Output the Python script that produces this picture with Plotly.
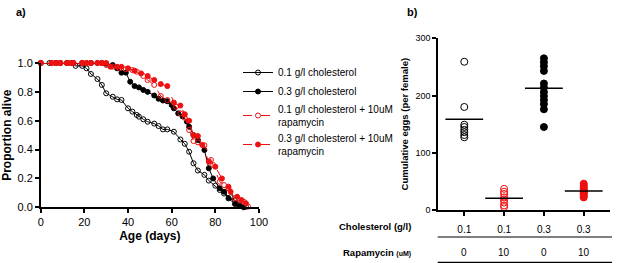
import numpy as np
import plotly.graph_objects as go

# ---------------- Panel a: survival ----------------
days_c01 = [0,4,7,9,12,14,16,19,21,23,26,28,30,33,35,37,40,42,44,45,47,49,52,54,56,58,61,64,66,68,70,72,75,77,80,82,84,87,89,91,94]
surv_c01 = [1,1,1,1,1,1,0.98,0.98,0.963,0.924,0.889,0.848,0.79,0.766,0.748,0.744,0.686,0.663,0.64,0.628,
            0.61,0.593,0.58,0.563,0.54,0.54,0.524,0.47,0.44,0.385,0.305,0.255,0.225,0.185,0.15,0.12,0.095,0.07,0.048,0.028,0.004]

days_c03 = [0,5,7,9,12,14,15,19,21,23,26,28,30,33,35,37,39,41,43,45,47,49,52,54,56,58,60,61,63,65,67,68,70,72,75,77,79,82,84,86,89,91,93]
surv_c03 = [1,1,1,1,1,1,1,1,1,1,1,1,0.995,0.986,0.963,0.933,0.933,0.87,0.84,0.831,
            0.813,0.8,0.775,0.752,0.74,0.735,0.709,0.686,0.651,0.63,0.593,0.558,0.5,0.466,0.397,0.27,0.2,0.132,0.108,0.062,0.023,0.009,0]

days_c01_rapa = [0,5,7,9,12,14,15,19,21,23,26,28,30,33,36,39,42,44,47,49,52,55,58,62,64,66,68,70,72,75,78,79,82,84,86,89,91,93,95]
surv_c01_rapa = [1,1,1,1,1,1,1,1,1,1,1,1,0.986,0.975,0.963,0.958,0.951,0.94,0.91,0.882,0.848,0.771,
                 0.744,0.697,0.651,0.62,0.536,0.459,0.45,0.43,0.328,0.293,0.177,0.154,0.132,0.062,0.05,0.039,0.005]

days_c03_rapa = [0,5,7,9,12,14,15,19,21,23,26,28,30,32,35,37,40,43,46,49,52,55,58,61,64,66,68,70,72,74,77,80,83,86,87,90,92,94]
surv_c03_rapa = [1,1,1,1,1,1,1,1,1,1,1,1,1,0.974,0.974,0.974,0.963,0.947,0.928,0.91,0.882,0.854,0.84,
                 0.726,0.705,0.645,0.6,0.5,0.494,0.432,0.316,0.281,0.2,0.143,0.108,0.073,0.05,0.028]

age_ticks = [0, 20, 40, 60, 80, 100]
prop_ticks = [0.0, 0.2, 0.4, 0.6, 0.8, 1.0]

# ---------------- Panel b: eggs ----------------
groups = ["0.1 / 0", "0.1 / 10", "0.3 / 0", "0.3 / 10"]
cholesterol_labels = ["0.1", "0.1", "0.3", "0.3"]
rapamycin_labels = ["0", "10", "0", "10"]
eggs_c01 = [259, 180, 149, 145, 140, 136, 131, 127]
eggs_c01_rapa = [37, 32, 28, 22, 18, 13, 8, 5]
eggs_c03 = [265, 258, 251, 243, 221, 214, 206, 199, 192, 185, 176, 145]
eggs_c03_rapa = [46, 43, 40, 37, 35, 33, 31, 29, 27, 24, 22]
egg_ticks = [0, 100, 200, 300]

RED = "#ee1111"
FONT = "Liberation Sans, Arial, sans-serif"

fig = go.Figure()

series_a = [
    ("0.1 g/l cholesterol", days_c01, surv_c01, "black", "circle-open", "solid"),
    ("0.3 g/l cholesterol", days_c03, surv_c03, "black", "circle", "solid"),
    ("0.1 g/l cholesterol + 10uM<br>rapamycin", days_c01_rapa, surv_c01_rapa, RED, "circle-open", "dash"),
    ("0.3 g/l cholesterol + 10uM<br>rapamycin", days_c03_rapa, surv_c03_rapa, RED, "circle", "dash"),
]
for name, d, s, col, sym, dash in series_a:
    fig.add_trace(go.Scatter(
        x=d, y=s, name=name, mode="lines+markers",
        line=dict(color=col, width=1, dash=dash),
        marker=dict(symbol=sym, size=5, color=col, line=dict(color=col, width=1)),
        cliponaxis=False, xaxis="x", yaxis="y",
    ))

series_b = [
    (0, eggs_c01, "black", "circle-open"),
    (1, eggs_c01_rapa, RED, "circle-open"),
    (2, eggs_c03, "black", "circle"),
    (3, eggs_c03_rapa, RED, "circle"),
]
for gi, vals, col, sym in series_b:
    fig.add_trace(go.Scatter(
        x=[gi] * len(vals), y=vals, mode="markers", showlegend=False,
        marker=dict(symbol=sym, size=7, color=col, line=dict(color=col, width=1)),
        cliponaxis=False, xaxis="x2", yaxis="y2",
    ))
    fig.add_trace(go.Scatter(
        x=[gi], y=[float(np.mean(vals))], mode="markers", showlegend=False,
        marker=dict(symbol="line-ew", size=27, color="black", line=dict(color="black", width=1.5)),
        cliponaxis=False, xaxis="x2", yaxis="y2",
    ))

W, H = 617, 263
def px(x):
    return x / W
def py(y):
    return 1 - y / H

axis_common = dict(showgrid=False, zeroline=False, showline=True, linecolor="black", automargin=False,
                   linewidth=1.5, ticks="outside", ticklen=4, tickwidth=1.5, tickcolor="black")

fig.update_layout(
    width=W, height=H, margin=dict(l=0, r=0, t=0, b=0, autoexpand=False),
    paper_bgcolor="white", plot_bgcolor="white",
    font=dict(family=FONT, color="black"),
    xaxis=dict(domain=[px(40.7), px(259)], range=[0, 100], tickvals=age_ticks,
               tickfont=dict(size=11), title=dict(text="<b>Age (days)</b>", font=dict(size=12), standoff=4),
               anchor="y", **axis_common),
    yaxis=dict(domain=[py(207.3), py(63)], range=[0, 1], tickvals=prop_ticks, tickformat=".1f",
               tickfont=dict(size=11), title=dict(text="<b>Proportion alive</b>", font=dict(size=12), standoff=4),
               anchor="x", **axis_common),
    xaxis2=dict(domain=[px(438), px(610)], range=[-0.66, 3.66], tickvals=[0, 1, 2, 3],
                ticktext=cholesterol_labels, tickfont=dict(size=10), ticklabelstandoff=5,
                anchor="y2", **axis_common),
    yaxis2=dict(domain=[py(210), py(38.3)], range=[0, 300], tickvals=egg_ticks,
                tickfont=dict(size=9), tickprefix="<b>", ticksuffix="</b>",
                title=dict(text="<b>Cumulative eggs (per female)</b>", font=dict(size=9.5), standoff=5),
                anchor="x2", **axis_common),
    legend=dict(x=px(238), y=py(58), xanchor="left", yanchor="top", font=dict(size=10),
                bgcolor="rgba(0,0,0,0)", itemwidth=30, tracegroupgap=0),
    showlegend=True,
)

annotations = [
    dict(text="<b>a)</b>", x=px(14), y=py(12), xref="paper", yref="paper", showarrow=False,
         font=dict(size=11), xanchor="left", yanchor="middle"),
    dict(text="<b>b)</b>", x=px(405), y=py(12), xref="paper", yref="paper", showarrow=False,
         font=dict(size=11), xanchor="left", yanchor="middle"),
    dict(text="<b>Cholesterol (g/l)</b>", x=px(413), y=py(226.5), xref="paper", yref="paper", showarrow=False,
         font=dict(size=9.5), xanchor="right", yanchor="middle"),
    dict(text="<b>Rapamycin <span style='font-size:7px'>(uM)</span></b>", x=px(413), y=py(252), xref="paper",
         yref="paper", showarrow=False, font=dict(size=9.5), xanchor="right", yanchor="middle"),
]
for gi, lab in enumerate(rapamycin_labels):
    annotations.append(dict(text=lab, x=gi, y=py(252), xref="x2", yref="paper", showarrow=False,
                            font=dict(size=10), xanchor="center", yanchor="middle"))
fig.update_layout(annotations=annotations)

fig.update_layout(shapes=[
    dict(type="line", xref="paper", yref="paper", x0=px(437.7), x1=px(612), y0=py(237), y1=py(237),
         line=dict(color="black", width=1.2)),
    dict(type="line", xref="paper", yref="paper", x0=px(437.7), x1=px(612), y0=py(262.3), y1=py(262.3),
         line=dict(color="black", width=1.2)),
])

fig.write_html("out.html", config={"displayModeBar": False},
               post_script="document.body.style.margin='0px';document.body.style.overflow='hidden';")
